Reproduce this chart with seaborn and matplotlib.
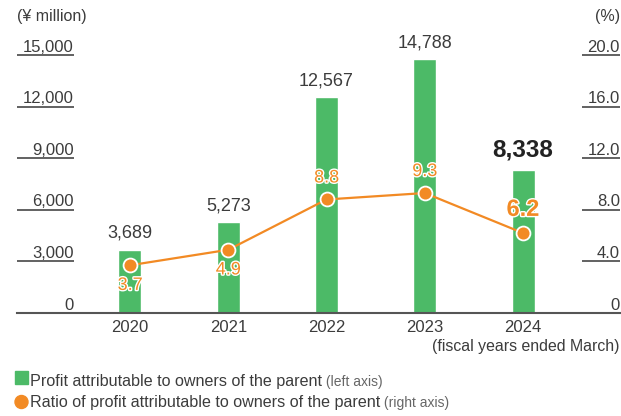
import matplotlib
matplotlib.use("Agg")
import matplotlib.pyplot as plt
import matplotlib.patheffects as pe
from matplotlib.patches import Rectangle, Ellipse
from matplotlib.transforms import blended_transform_factory
import numpy as np
import pandas as pd
import seaborn as sns

# Data
years = ["2020", "2021", "2022", "2023", "2024"]
profit = [3689, 5273, 12567, 14788, 8338]          # ¥ million, left axis
ratio = [3.7, 4.9, 8.8, 9.3, 6.2]                  # %, right axis
left_ticks = [0, 3000, 6000, 9000, 12000, 15000]
right_ticks = [0, 4.0, 8.0, 12.0, 16.0, 20.0]
ratio_label_above = [False, False, True, True, True]

GREEN = "#4cba67"
ORANGE = "#f28a24"
TEXT = "#3c3c3c"
GRAY = "#555555"

sns.set_theme(style="white")
plt.rcParams["font.family"] = ["Liberation Sans", "DejaVu Sans"]

W, H = 621, 416
fig = plt.figure(figsize=(W / 100, H / 100), dpi=100)
x0_px, x1_px = 17, 620
y_base_px, y_top_px = 313, 55
ax = fig.add_axes([x0_px / W, (H - y_base_px) / H,
                   (x1_px - x0_px) / W, (y_base_px - y_top_px) / H])

df = pd.DataFrame({"year": years, "profit": profit, "ratio": ratio})

sns.barplot(data=df, x="year", y="profit", order=years, color=GREEN,
            saturation=1, width=0.234, ax=ax, zorder=2)

ax2 = ax.twinx()
sns.pointplot(data=df, x="year", y="ratio", order=years, color=ORANGE,
              markers="o", linestyles="-", ax=ax2,
              markersize=10, markeredgecolor="white", markeredgewidth=1.3,
              linewidth=1.6)

ax.set_ylim(0, 15000)
ax2.set_ylim(0, 20)
XLIM = (-1.15, 4.987)
ax.set_xlim(XLIM)
ax2.set_xlim(XLIM)

for a in (ax, ax2):
    for s in a.spines.values():
        s.set_visible(False)
    a.set_yticks([])
    a.set_ylabel("")
    a.set_xlabel("")
    a.grid(False)

ax.spines["bottom"].set_visible(True)
ax.spines["bottom"].set_color(GRAY)
ax.spines["bottom"].set_linewidth(1.5)
ax.spines["bottom"].set_zorder(5)
ax.set_xticks(range(len(years)))
ax.set_xticklabels(years)
ax.tick_params(axis="x", length=0, pad=5, labelsize=12, labelcolor=TEXT)

# Axis value labels sitting on short rules
lt = blended_transform_factory(ax.transAxes, ax.transData)
rt = blended_transform_factory(ax2.transAxes, ax2.transData)
l_end = (74 - x0_px) / (x1_px - x0_px)
r_start = (582 - x0_px) / (x1_px - x0_px)
for v in left_ticks:
    ax.annotate(f"{v:,}", xy=(l_end, v), xycoords=lt, xytext=(0, 2.5),
                textcoords="offset points", ha="right", va="baseline",
                fontsize=12, color=TEXT, annotation_clip=False)
    if v > 0:
        ax.plot([0, l_end], [v, v], transform=lt, color=GRAY, lw=1.3,
                clip_on=False, solid_capstyle="butt")
for v in right_ticks:
    label = "0" if v == 0 else f"{v:.1f}"
    ax2.annotate(label, xy=(1.0, v), xycoords=rt, xytext=(0, 2.5),
                 textcoords="offset points", ha="right", va="baseline",
                 fontsize=12, color=TEXT, annotation_clip=False)
    if v > 0:
        ax2.plot([r_start, 1.0], [v, v], transform=rt, color=GRAY, lw=1.3,
                 clip_on=False, solid_capstyle="butt")

# Value labels on bars
for i, v in enumerate(profit):
    last = i == len(profit) - 1
    ax.annotate(f"{v:,}", xy=(i, v), xytext=(0, 5.5), textcoords="offset points",
                ha="center", va="bottom", color="#222222" if last else TEXT,
                fontsize=17.5 if last else 13, fontweight="bold" if last else "normal",
                annotation_clip=False)

# Value labels on ratio points
for i, v in enumerate(ratio):
    last = i == len(ratio) - 1
    dy = (17 if last else 15.5) if ratio_label_above[i] else -14.5
    ax2.annotate(f"{v:.1f}", xy=(i, v), xytext=(0, dy), textcoords="offset points",
                 ha="center", va="center", color=ORANGE,
                 fontsize=17 if last else 13, fontweight="bold" if last else "normal",
                 path_effects=[pe.withStroke(linewidth=2.0, foreground="white")],
                 annotation_clip=False, zorder=6)

# Units and footnote
fig.text(17 / W, 1 - 16 / H, "(¥ million)", ha="left", va="center",
         fontsize=11.5, color=TEXT)
fig.text(620 / W, 1 - 16 / H, "(%)", ha="right", va="center",
         fontsize=11.5, color=TEXT)
fig.text(620 / W, 1 - 347 / H, "(fiscal years ended March)", ha="right",
         va="center", fontsize=11.4, color=TEXT)

# Legend
fig.patches.append(Rectangle((15 / W, 1 - 384 / H), 13 / W, 13 / H,
                             transform=fig.transFigure, color=GREEN))
fig.patches.append(Ellipse((21.5 / W, 1 - 402 / H), 13 / W, 13 / H,
                           transform=fig.transFigure, color=ORANGE))
renderer = fig.canvas.get_renderer()
legend_items = [
    ("Profit attributable to owners of the parent", " (left axis)", 386),
    ("Ratio of profit attributable to owners of the parent", " (right axis)", 407),
]
for main, note, ypx in legend_items:
    t = fig.text(30 / W, 1 - ypx / H, main, ha="left", va="baseline",
                 fontsize=11.6, color=TEXT)
    bb = t.get_window_extent(renderer=renderer)
    fig.text(bb.x1 / W, 1 - ypx / H, note, ha="left", va="baseline",
             fontsize=10, color="#666666")

fig.savefig("out.png", dpi=100)
